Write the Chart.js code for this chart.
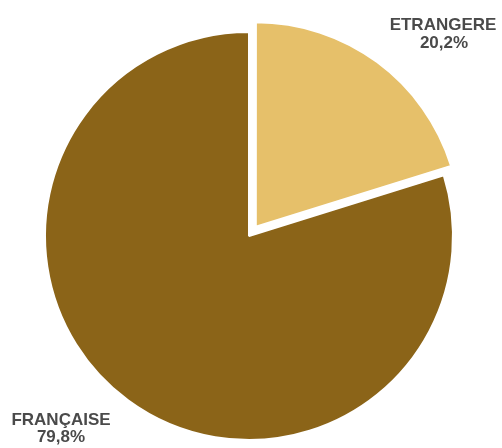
<!DOCTYPE html>
<html>
<head>
<meta charset="utf-8">
<script src="https://cdn.jsdelivr.net/npm/chart.js@4"></script>
<style>
  html, body { margin: 0; padding: 0; background: #fff; }
  #wrap { width: 502px; height: 448px; }
</style>
</head>
<body>
<div id="wrap"><canvas id="pieChart" width="502" height="448"></canvas></div>
<script>
// Données du graphique
const categories = ['ETRANGERE', 'FRANÇAISE'];
const parts = [20.2, 79.8];
const etiquettes = ['20,2%', '79,8%'];
const couleurs = ['#E6C06A', '#8B6418'];

// Étiquettes dessinées à côté du camembert
const labelPlugin = {
    id: 'labels',
    afterDraw(chart) {
        const ctx = chart.ctx;
        ctx.save();
        ctx.fillStyle = '#4a4a4a';
        ctx.font = 'bold 17px "Liberation Sans", Arial, sans-serif';
        ctx.textAlign = 'center';
        ctx.textBaseline = 'middle';
        ctx.fillText(categories[0], 443, 25);
        ctx.fillText(etiquettes[0], 444, 43);
        ctx.fillText(categories[1], 61, 420);
        ctx.fillText(etiquettes[1], 61, 437);
        ctx.restore();
    }
};

const pieChart = new Chart(document.getElementById('pieChart'), {
    type: 'pie',
    data: {
        labels: categories,
        datasets: [{
            data: parts,
            backgroundColor: couleurs,
            borderColor: '#ffffff',
            borderWidth: 2,
            offset: [46, 0] // Chart.js divise le décalage par 4
        }]
    },
    options: {
        responsive: false,
        animation: false,
        radius: 204,
        layout: { padding: { top: 25, bottom: 1, left: 0, right: 4 } },
        plugins: {
            legend: { display: false },
            tooltip: { enabled: false }
        }
    },
    plugins: [labelPlugin]
});
</script>
</body>
</html>
